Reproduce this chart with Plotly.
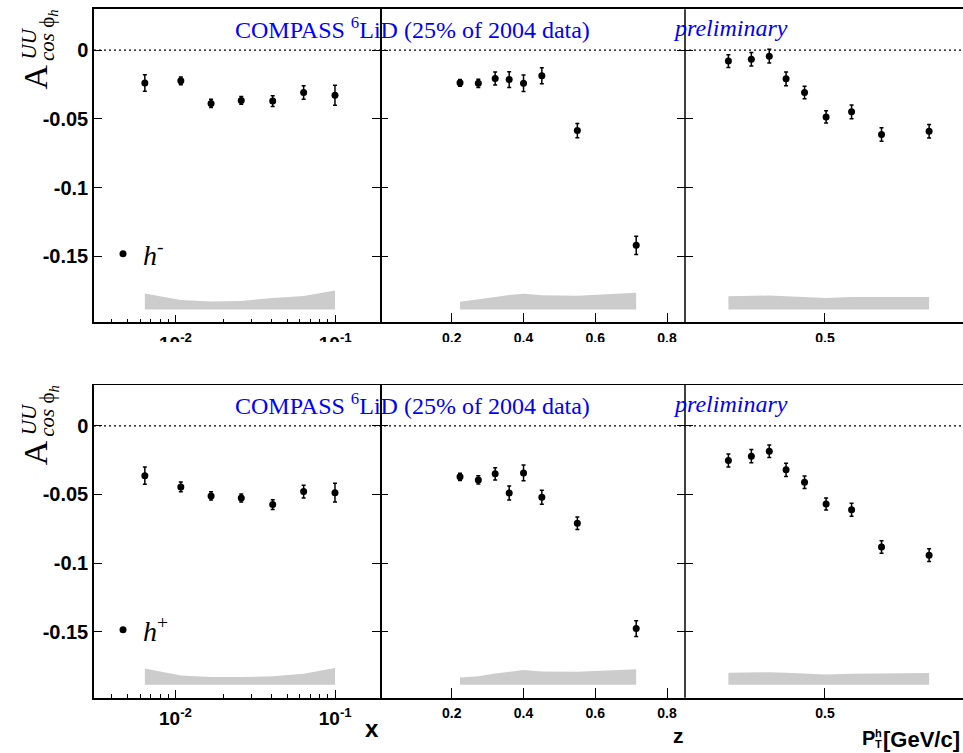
import plotly.graph_objects as go

# ---------------------------------------------------------------------------
# A_UU^{cos phi_h} on 6LiD, COMPASS 2004 (25% of data), preliminary
# columns: x (log scale), z, P_T^h ; rows: h- (top), h+ (bottom)
# ---------------------------------------------------------------------------
X_BINS = [0.00643, 0.0108, 0.0167, 0.0258, 0.0406, 0.0634, 0.0996]
Z_BINS = [0.223, 0.274, 0.321, 0.360, 0.400, 0.451, 0.550, 0.714]
PT_BINS = [0.155, 0.237, 0.301, 0.361, 0.427, 0.504, 0.595, 0.702, 0.872]

# negative hadrons
HM_X = [-0.0240, -0.0223, -0.0388, -0.0366, -0.0371, -0.0308, -0.0328]
HM_X_ERR = [0.0060, 0.0028, 0.0030, 0.0028, 0.0040, 0.0049, 0.0073]
HM_X_SYS = [0.0116, 0.0068, 0.0058, 0.0061, 0.0083, 0.0097, 0.0138]

HM_Z = [-0.0238, -0.0241, -0.0206, -0.0214, -0.0241, -0.0187, -0.0585, -0.1420]
HM_Z_ERR = [0.0025, 0.0030, 0.0047, 0.0057, 0.0060, 0.0058, 0.0052, 0.0066]
HM_Z_SYS = [0.0056, 0.0071, 0.0090, 0.0104, 0.0114, 0.0102, 0.0100, 0.0121]

HM_PT = [-0.0080, -0.0066, -0.0044, -0.0209, -0.0308, -0.0486, -0.0449, -0.0614, -0.0590]
HM_PT_ERR = [0.0046, 0.0049, 0.0050, 0.0050, 0.0046, 0.0045, 0.0050, 0.0049, 0.0049]
HM_PT_SYS = [0.0095, 0.0100, 0.0101, 0.0096, 0.0090, 0.0083, 0.0090, 0.0092, 0.0090]

# positive hadrons
HP_X = [-0.0363, -0.0445, -0.0511, -0.0526, -0.0574, -0.0479, -0.0487]
HP_X_ERR = [0.0063, 0.0036, 0.0030, 0.0029, 0.0036, 0.0046, 0.0068]
HP_X_SYS = [0.0119, 0.0068, 0.0056, 0.0056, 0.0063, 0.0080, 0.0122]

HP_Z = [-0.0372, -0.0394, -0.0350, -0.0489, -0.0343, -0.0521, -0.0710, -0.1477]
HP_Z_ERR = [0.0026, 0.0030, 0.0045, 0.0051, 0.0058, 0.0051, 0.0046, 0.0058]
HP_Z_SYS = [0.0054, 0.0063, 0.0083, 0.0095, 0.0107, 0.0097, 0.0095, 0.0114]

HP_PT = [-0.0253, -0.0221, -0.0185, -0.0321, -0.0411, -0.0569, -0.0611, -0.0883, -0.0942]
HP_PT_ERR = [0.0047, 0.0049, 0.0046, 0.0049, 0.0045, 0.0044, 0.0047, 0.0046, 0.0047]
HP_PT_SYS = [0.0088, 0.0092, 0.0092, 0.0088, 0.0082, 0.0075, 0.0080, 0.0083, 0.0085]

# systematic bands are drawn upward from this baseline
SYS_BASE = -0.1886

# axis ticks
Y_TICKS = [0, -0.05, -0.1, -0.15]
Y_TICK_TEXT = ["0", "-0.05", "-0.1", "-0.15"]
X_TICKS = [0.01, 0.1]
X_TICK_TEXT = ["10<sup>-2</sup>", "10<sup>-1</sup>"]
X_MINOR = [0.004, 0.005, 0.006, 0.007, 0.008, 0.009,
           0.02, 0.03, 0.04, 0.05, 0.06, 0.07, 0.08, 0.09]
Z_TICKS = [0.2, 0.4, 0.6, 0.8]
Z_TICK_TEXT = ["0.2", "0.4", "0.6", "0.8"]
PT_TICKS = [0.5]
PT_TICK_TEXT = ["0.5"]

HADRONS = ["<i>h</i><sup>-</sup>", "<i>h</i><sup>+</sup>"]

# ---------------------------------------------------------------------------
W, H = 963, 753


def fx(p):
    return p / W


def fy(p):
    return 1 - p / H


COL_EDGES = [94, 380, 685, 963]
ROW_EDGES = [(9.3, 322.3), (385.0, 697.7)]
Y_RANGE = [-0.198, 0.0297]
X_RANGES = [[-2.51, -0.72], [0.0, 0.85], [0.0, 0.993]]

SANS = "Liberation Sans"
SERIF = "Liberation Serif"
BLUE = "#0000ff"
BAND = "#cccccc"

rows = [
    [(X_BINS, HM_X, HM_X_ERR, HM_X_SYS),
     (Z_BINS, HM_Z, HM_Z_ERR, HM_Z_SYS),
     (PT_BINS, HM_PT, HM_PT_ERR, HM_PT_SYS)],
    [(X_BINS, HP_X, HP_X_ERR, HP_X_SYS),
     (Z_BINS, HP_Z, HP_Z_ERR, HP_Z_SYS),
     (PT_BINS, HP_PT, HP_PT_ERR, HP_PT_SYS)],
]

fig = go.Figure()
layout = {}

for r, panels in enumerate(rows):
    top, bot = ROW_EDGES[r]
    for c, (xs, ys, err, sys) in enumerate(panels):
        k = r * 3 + c + 1
        xa = "x" if k == 1 else f"x{k}"
        ya = "y" if k == 1 else f"y{k}"
        xkey = "xaxis" if k == 1 else f"xaxis{k}"
        ykey = "yaxis" if k == 1 else f"yaxis{k}"

        # systematic band
        fig.add_trace(go.Scatter(
            x=list(xs) + list(xs)[::-1],
            y=[SYS_BASE + s for s in sys] + [SYS_BASE] * len(xs),
            mode="lines", fill="toself", fillcolor=BAND,
            line=dict(width=0, color=BAND), hoverinfo="skip",
            showlegend=False, xaxis=xa, yaxis=ya))

        # measured asymmetries with statistical errors
        fig.add_trace(go.Scatter(
            x=xs, y=ys, mode="markers",
            marker=dict(color="black", size=7),
            error_y=dict(type="data", array=err, color="black",
                         thickness=1.5, width=2),
            name=HADRONS[r], showlegend=(c == 0),
            legend="legend" if r == 0 else "legend2",
            xaxis=xa, yaxis=ya))

        xaxis = dict(
            domain=[fx(COL_EDGES[c]), fx(COL_EDGES[c + 1])],
            anchor=ya, range=X_RANGES[c],
            showline=True, linecolor="black", linewidth=1.5, mirror=True,
            showgrid=False, zeroline=False,
            ticks="inside", tickcolor="black", tickwidth=1.2,
            tickmode="array",
            tickfont=dict(family=SANS, size=14, color="black", weight="bold"),
            ticklabelstandoff=2,
        )
        if c == 0:
            xaxis.update(type="log", tickvals=X_TICKS, ticktext=X_TICK_TEXT,
                         ticklen=8, ticklabelstandoff=3,
                         tickfont=dict(family=SANS, size=19, color="black",
                                       weight="bold"),
                         minor=dict(tickmode="array", tickvals=X_MINOR,
                                    ticks="inside", ticklen=4,
                                    tickcolor="black", tickwidth=1.2))
        elif c == 1:
            xaxis.update(tickvals=Z_TICKS, ticktext=Z_TICK_TEXT, ticklen=10)
        else:
            xaxis.update(tickvals=PT_TICKS, ticktext=PT_TICK_TEXT, ticklen=10)
        layout[xkey] = xaxis

        # the first panel carries the frame line on both sides; the
        # neighbouring panels only add their inward ticks
        yaxis = dict(
            domain=[fy(bot), fy(top)], anchor=xa, range=Y_RANGE,
            showline=(c == 0), linecolor="black", linewidth=1.5,
            mirror="ticks" if c < 2 else False,
            showgrid=False, zeroline=False,
            ticks="inside", ticklen=8, tickcolor="black", tickwidth=1.2,
            tickmode="array", tickvals=Y_TICKS, ticktext=Y_TICK_TEXT,
            showticklabels=(c == 0),
            tickfont=dict(family=SANS, size=20, color="black", weight="bold"),
        )
        layout[ykey] = yaxis

shapes = []
annotations = []

for r in range(2):
    top, bot = ROW_EDGES[r]
    ya = "y" if r == 0 else "y4"
    dy = top - ROW_EDGES[0][0]
    # dotted zero line across the row
    shapes.append(dict(type="line", xref="paper", yref=ya,
                       x0=fx(COL_EDGES[0]), x1=1, y0=0, y1=0,
                       line=dict(color="black", width=1.2, dash="2px,3px")))
    # second panel's right border (its y axis line is not drawn)
    shapes.append(dict(type="line", xref="paper", yref="paper",
                       x0=fx(COL_EDGES[2]), x1=fx(COL_EDGES[2]),
                       y0=fy(bot), y1=fy(top),
                       line=dict(color="black", width=1.5)))
    # experiment label
    annotations.append(dict(
        text="COMPASS <sup>6</sup>LiD (25% of 2004 data)",
        xref="paper", yref="paper", x=fx(233), y=fy(28 + dy),
        xanchor="left", yanchor="middle", showarrow=False,
        font=dict(family=SERIF, size=24, color=BLUE)))
    annotations.append(dict(
        text="<i>preliminary</i>",
        xref="paper", yref="paper", x=fx(671), y=fy(28 + dy),
        xanchor="left", yanchor="middle", showarrow=False,
        font=dict(family=SERIF, size=24, color=BLUE)))
    # y-axis title A^{UU}_{cos phi_h}
    annotations.append(dict(
        text="A", textangle=-90, xref="paper", yref="paper",
        x=fx(35), y=fy(77.5 + dy), xanchor="center", yanchor="middle",
        showarrow=False, font=dict(family=SERIF, size=34, color="black")))
    annotations.append(dict(
        text="<i>UU</i>", textangle=-90, xref="paper", yref="paper",
        x=fx(29), y=fy(43.5 + dy), xanchor="center", yanchor="middle",
        showarrow=False, font=dict(family=SERIF, size=21, color="black")))
    annotations.append(dict(
        text="<i>cos</i> \u03d5<sub><i>h</i></sub>", textangle=-90,
        xref="paper", yref="paper",
        x=fx(48), y=fy(35 + dy), xanchor="center", yanchor="middle",
        showarrow=False, font=dict(family=SERIF, size=21, color="black")))

# axis titles of the lower row
annotations.append(dict(text="<b>x</b>", xref="paper", yref="paper",
                        x=fx(372), y=fy(728.5), xanchor="center",
                        yanchor="middle", showarrow=False,
                        font=dict(family=SANS, size=24, color="black")))
annotations.append(dict(text="<b>z</b>", xref="paper", yref="paper",
                        x=fx(678), y=fy(735), xanchor="center",
                        yanchor="middle", showarrow=False,
                        font=dict(family=SANS, size=21, color="black")))
annotations.append(dict(text="<b>P</b>", xref="paper", yref="paper",
                        x=fx(860), y=fy(738), xanchor="left",
                        yanchor="middle", showarrow=False,
                        font=dict(family=SANS, size=20, color="black")))
annotations.append(dict(text="<b>h</b>", xref="paper", yref="paper",
                        x=fx(873), y=fy(732.5), xanchor="left",
                        yanchor="middle", showarrow=False,
                        font=dict(family=SANS, size=11, color="black")))
annotations.append(dict(text="<b>T</b>", xref="paper", yref="paper",
                        x=fx(873), y=fy(744), xanchor="left",
                        yanchor="middle", showarrow=False,
                        font=dict(family=SANS, size=11, color="black")))
annotations.append(dict(text="<b>[GeV/c]</b>", xref="paper", yref="paper",
                        x=fx(881), y=fy(739), xanchor="left",
                        yanchor="middle", showarrow=False,
                        font=dict(family=SANS, size=22, color="black")))

# the lower pad's background overlaps the upper row's log labels
shapes.append(dict(type="rect", xref="paper", yref="paper",
                   x0=0, x1=1, y0=fy(384), y1=fy(342),
                   fillcolor="white", line=dict(width=0), layer="above"))

legend_common = dict(xanchor="left", yanchor="middle",
                     bgcolor="rgba(0,0,0,0)", borderwidth=0,
                     itemwidth=30,
                     font=dict(family=SERIF, size=28, color="black"))

fig.update_layout(
    width=W, height=H,
    margin=dict(l=0, r=0, t=0, b=0),
    paper_bgcolor="white", plot_bgcolor="white",
    shapes=shapes, annotations=annotations,
    legend=dict(x=fx(103), y=fy(254), **legend_common),
    legend2=dict(x=fx(103), y=fy(630), **legend_common),
    **layout,
)

fig.write_html("out.html")
